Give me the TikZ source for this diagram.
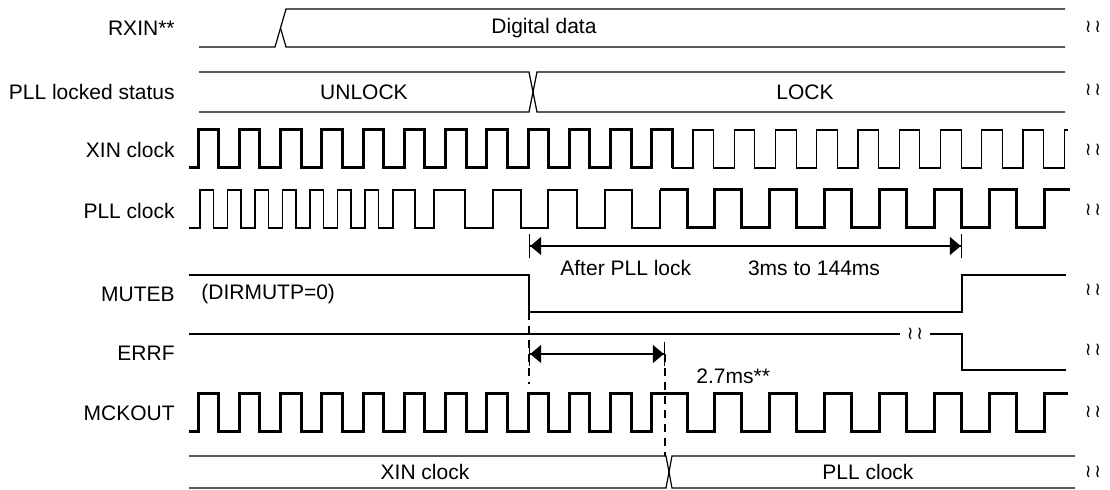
\documentclass[tikz,border=0pt]{standalone}
\usepackage{fontspec}
\setmainfont{Liberation Sans}
\newfontfamily\brkfont{DejaVu Sans}
\usetikzlibrary{arrows.meta}

\def\pllpulses{714/741,769/796,824/851,879/906,934/961,989/1016}

\begin{document}
\begin{tikzpicture}[x=0.5pt,y=-0.5pt,font=\fontsize{10.5}{12}\selectfont,
  txt/.style={inner sep=0pt},
  sig/.style={line width=0.6pt},
  clk/.style={line width=1.5pt},
  brk/.style={inner sep=0pt,font=\brkfont\fontsize{9}{10}\selectfont},
  dim/.style={line width=0.6pt,{Bar[width=12pt]Triangle[length=5.5pt,width=9pt]}-{Triangle[length=5.5pt,width=9pt]Bar[width=12pt]}},
  guide/.style={line width=1.2pt,dash pattern=on 4pt off 3pt}]
\useasboundingbox (0,0) rectangle (1110,490);
% signal names
\node[txt,anchor=east] (nrxin) at (175,28) {RXIN**};
\node[txt,anchor=east] (nlock) at (175,92) {PLL locked status};
\node[txt,anchor=east] (nxin) at (175,150) {XIN clock};
\node[txt,anchor=east] (npll) at (175,211) {PLL clock};
\node[txt,anchor=east] (nmute) at (175,294) {MUTEB};
\node[txt,anchor=east] (nerrf) at (175,353) {ERRF};
\node[txt,anchor=east] (nmck) at (175,413) {MCKOUT};
% buses
\draw[sig] (199,47)--(275,47)--(286,9)--(1065,9);
\draw[sig] (280.5,28)--(286,47)--(1065,47);
\node[txt] (data) at (544,28) {Digital data};
\draw[sig] (199,72)--(529,72)--(537,112)--(1065,112);
\draw[sig] (199,112)--(529,112)--(537,72)--(1065,72);
\node[txt] (unlock) at (364,92) {UNLOCK};
\node[txt] (lock) at (805,92) {LOCK};
% XIN clock
\draw[clk] (189,168) \foreach \k in {0,...,11}{--({198+41.25*\k},168)--++(0,-38)--++(20.6,0)--++(0,38)};
\draw[sig] (672.35,168) \foreach \k in {12,...,20}{--({198+41.25*\k},168)--++(0,-38)--++(20.6,0)--++(0,38)}--(1064.25,168)--(1064.25,130)--(1068,130);
% PLL clock
\draw[sig] (189,228) \foreach \r/\f in {200/213.5,227.5/241,255/268.5,282.5/296,310/323.5,337.5/351,365/378.5,393/415,434/465,493/521,548/577,605/632}{--(\r,228)--(\r,190)--(\f,190)--(\f,228)}--(660,228)--(660,190);
\draw[clk] (660,190)--(687,190)--(687,228) \foreach \r/\f in \pllpulses{--(\r,228)--(\r,190)--(\f,190)--(\f,228)}--(1044,228)--(1044,190)--(1070,190);
% MUTEB and ERRF
\draw[sig] (189,275)--(529,275)--(529,312)--(962,312)--(962,275)--(1066,275);
\node[txt,anchor=west] (dirm) at (201,294) {(DIRMUTP=0)};
\draw[sig] (189,334)--(900,334) (930,334)--(962,334)--(962,370)--(1066,370);
\node[brk] (ebrk) at (915,334) {≀\,≀};
% timing arrows
\coordinate (mfall) at (529,246);
\coordinate (mrise) at (962,246);
\draw[dim] (mfall)--(mrise);
\node[txt,anchor=west] (after) at (560,268) {After PLL lock};
\node[txt] (tmute) at (814,268) {3ms to 144ms};
\coordinate (eL) at (529,354);
\coordinate (eR) at (665,354);
\draw[dim] (eL)--(eR);
\node[txt,anchor=west] (terr) at (696,376) {2.7ms**};
\draw[guide] (529,312)--(529,384);
\draw[guide] (eR)--(665,456);
% MCKOUT
\draw[clk] (189,432) \foreach \k in {0,...,10}{--({198+41.25*\k},432)--++(0,-38)--++(20.6,0)--++(0,38)}--(651.75,432)--(651.75,394)--(687,394)--(687,432) \foreach \r/\f in \pllpulses{--(\r,432)--(\r,394)--(\f,394)--(\f,432)}--(1044,432)--(1044,394)--(1068,394);
\draw[sig] (189,456)--(666,456)--(672,488)--(1075,488);
\draw[sig] (189,488)--(666,488)--(672,456)--(1075,456);
\node[txt] (sxin) at (425,472) {XIN clock};
\node[txt] (spll) at (868,472) {PLL clock};
% breaks
\foreach \y in {27,90,150,210,290,350,412,472}
  \node[brk] (b\y) at (1093,\y) {≀\,≀};
\end{tikzpicture}
\end{document}
